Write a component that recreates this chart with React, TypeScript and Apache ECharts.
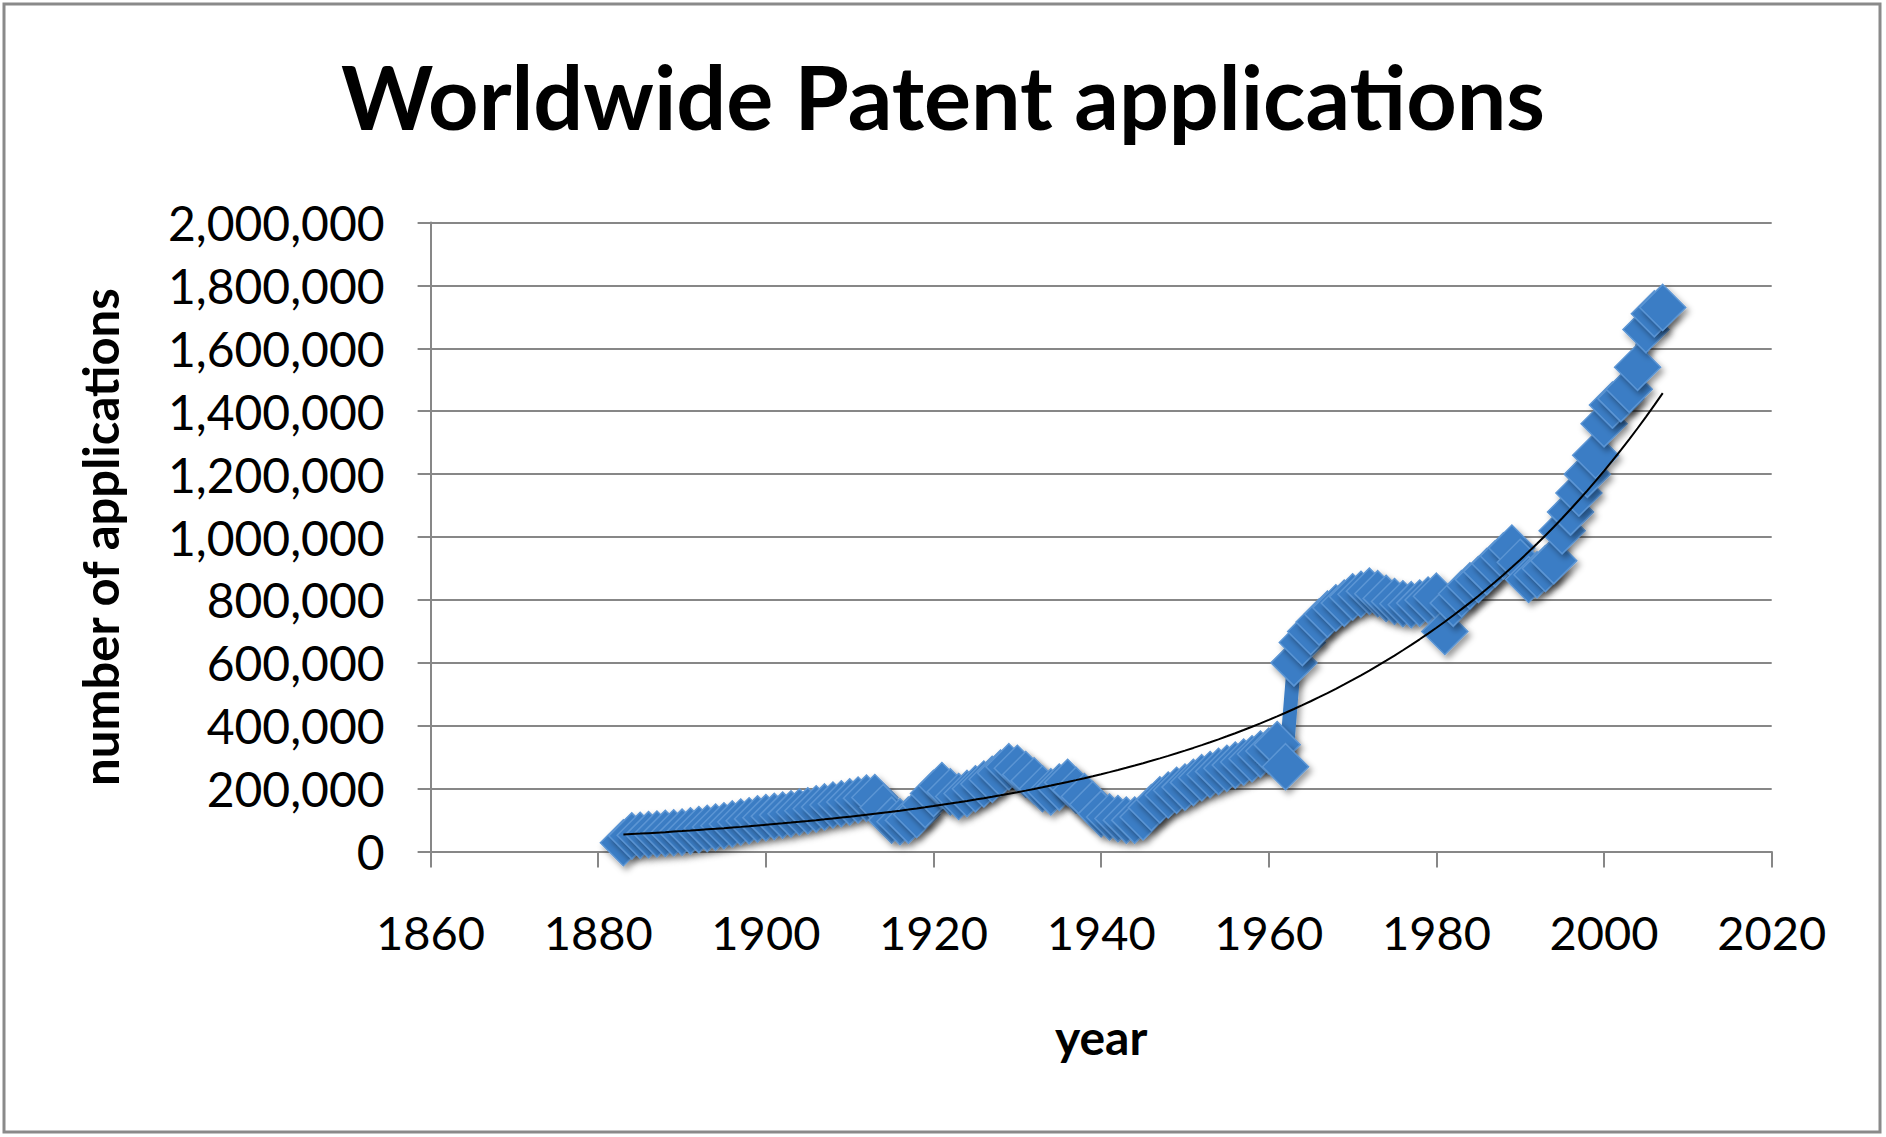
import React, { useEffect, useRef } from "react";
import * as echarts from "echarts";

const TITLE = "Worldwide Patent applications";
const X_NAME = "year";
const Y_NAME = "number of applications";

const X_TICKS = [1860, 1880, 1900, 1920, 1940, 1960, 1980, 2000, 2020];
const Y_MIN = 0;
const Y_MAX = 2000000;
const Y_STEP = 200000;

const FIRST_YEAR = 1883;
// yearly worldwide patent applications, 1883 .. 2007
const applications1880s = [28000, 50000, 52000, 54000, 56000, 58000, 60000]; // 1883-1889
const applications1890s = [62000, 66000, 70000, 74000, 78000, 82000, 88000, 94000, 98000, 104000];
const applications1900s = [108000, 112000, 116000, 120000, 126000, 130000, 136000, 142000, 148000, 152000];
const applications1910s = [158000, 164000, 170000, 172000, 140000, 100000, 95000, 100000, 118000, 150000];
const applications1920s = [185000, 210000, 190000, 175000, 185000, 200000, 215000, 230000, 250000, 270000];
const applications1930s = [265000, 245000, 225000, 200000, 190000, 205000, 220000, 195000, 175000, 150000];
const applications1940s = [120000, 110000, 105000, 100000, 100000, 110000, 140000, 165000, 180000, 195000];
const applications1950s = [205000, 220000, 235000, 245000, 255000, 265000, 275000, 285000, 295000, 310000];
const applications1960s = [320000, 340000, 270000, 600000, 665000, 700000, 730000, 755000, 775000, 790000];
const applications1970s = [810000, 818000, 828000, 820000, 805000, 795000, 788000, 785000, 790000, 800000];
const applications1980s = [812000, 700000, 790000, 820000, 845000, 865000, 890000, 915000, 940000, 965000];
const applications1990s = [920000, 865000, 880000, 900000, 925000, 1020000, 1080000, 1140000, 1200000, 1260000];
const applications2000s = [1360000, 1420000, 1440000, 1470000, 1540000, 1660000, 1710000, 1730000]; // 2000-2007

const applications = [
  ...applications1880s,
  ...applications1890s,
  ...applications1900s,
  ...applications1910s,
  ...applications1920s,
  ...applications1930s,
  ...applications1940s,
  ...applications1950s,
  ...applications1960s,
  ...applications1970s,
  ...applications1980s,
  ...applications1990s,
  ...applications2000s,
];
const years = applications.map((_, i) => FIRST_YEAR + i);

// Exponential trendline (least squares on ln y), as the spreadsheet computes it
function exponentialTrend(xs: number[], ys: number[]) {
  const n = xs.length;
  let sx = 0, sy = 0, sxx = 0, sxy = 0;
  for (let i = 0; i < n; i++) {
    const x = xs[i] - xs[0];
    const ly = Math.log(ys[i]);
    sx += x; sy += ly; sxx += x * x; sxy += x * ly;
  }
  const b = (n * sxy - sx * sy) / (n * sxx - sx * sx);
  const a = (sy - b * sx) / n;
  return xs.map((x) => [x, Math.exp(a + b * (x - xs[0]))]);
}

const fmt = (v: number) => String(v).replace(/\B(?=(\d{3})+(?!\d))/g, ",");

export default function App() {
  const ref = useRef<HTMLDivElement>(null);
  useEffect(() => {
    if (!ref.current) return;
    const chart = echarts.init(ref.current, null, { renderer: "svg" });
    const gridColor = "#878787";
    const font = "Lato";
    chart.setOption({
      animation: false,
      backgroundColor: "#ffffff",
      title: {
        text: TITLE,
        left: "center",
        top: 47,
        textStyle: { fontFamily: font, fontWeight: "bold", fontSize: 88, color: "#000" },
      },
      graphic: [
        {
          type: "rect",
          silent: true,
          shape: { x: 4, y: 4, width: 1876, height: 1128 },
          style: { fill: "none", stroke: "#8a8a8a", lineWidth: 3 },
        },
      ],
      grid: {
        left: 430.6,
        right: 114.3,
        top: 222.5,
        bottom: 285.4,
        containLabel: false,
        outerBoundsMode: "none",
      },
      xAxis: {
        type: "value",
        min: X_TICKS[0],
        max: X_TICKS[X_TICKS.length - 1],
        interval: X_TICKS[1] - X_TICKS[0],
        axisLine: { show: true, onZero: false, lineStyle: { color: gridColor, width: 2 } },
        axisTick: { show: true, length: 16, lineStyle: { color: gridColor, width: 2 } },
        splitLine: { show: false },
        axisLabel: { fontFamily: font, fontSize: 47, color: "#000", margin: 57, formatter: (v: number) => String(v) },
        name: X_NAME,
        nameLocation: "middle",
        nameGap: 161,
        nameTextStyle: { fontFamily: font, fontWeight: "bold", fontSize: 48, color: "#000" },
      },
      yAxis: {
        type: "value",
        min: Y_MIN,
        max: Y_MAX,
        interval: Y_STEP,
        axisLine: { show: true, lineStyle: { color: gridColor, width: 2 } },
        axisTick: { show: true, length: 13, lineStyle: { color: gridColor, width: 2 } },
        splitLine: { show: true, lineStyle: { color: gridColor, width: 2 } },
        axisLabel: { fontFamily: font, fontSize: 48, color: "#000", margin: 46, formatter: (v: number) => fmt(v) },
        name: Y_NAME,
        nameLocation: "middle",
        nameRotate: 90,
        nameGap: 306,
        nameTextStyle: { fontFamily: font, fontWeight: "bold", fontSize: 49, color: "#000" },
      },
      series: [
        {
          type: "line",
          name: "applications",
          data: years.map((y, i) => [y, applications[i]]),
          symbol: "diamond",
          symbolSize: 46,
          showSymbol: true,
          z: 2,
          lineStyle: {
            color: "#3A7CC3",
            width: 14,
            shadowBlur: 6,
            shadowColor: "rgba(0,0,0,0.4)",
            shadowOffsetX: 3,
            shadowOffsetY: 4,
          },
          itemStyle: {
            color: "#3A7DC5",
            borderColor: "#5B95D4",
            borderWidth: 1.5,
            shadowBlur: 6,
            shadowColor: "rgba(0,0,0,0.4)",
            shadowOffsetX: 3,
            shadowOffsetY: 4,
          },
        },
        {
          type: "line",
          name: "trend",
          data: exponentialTrend(years, applications),
          symbol: "none",
          z: 3,
          lineStyle: { color: "#000", width: 2 },
        },
      ],
    });
    return () => chart.dispose();
  }, []);
  return (
    <div
      ref={ref}
      style={{ position: "fixed", left: 0, top: 0, width: 1886, height: 1137, background: "#fff" }}
    />
  );
}
